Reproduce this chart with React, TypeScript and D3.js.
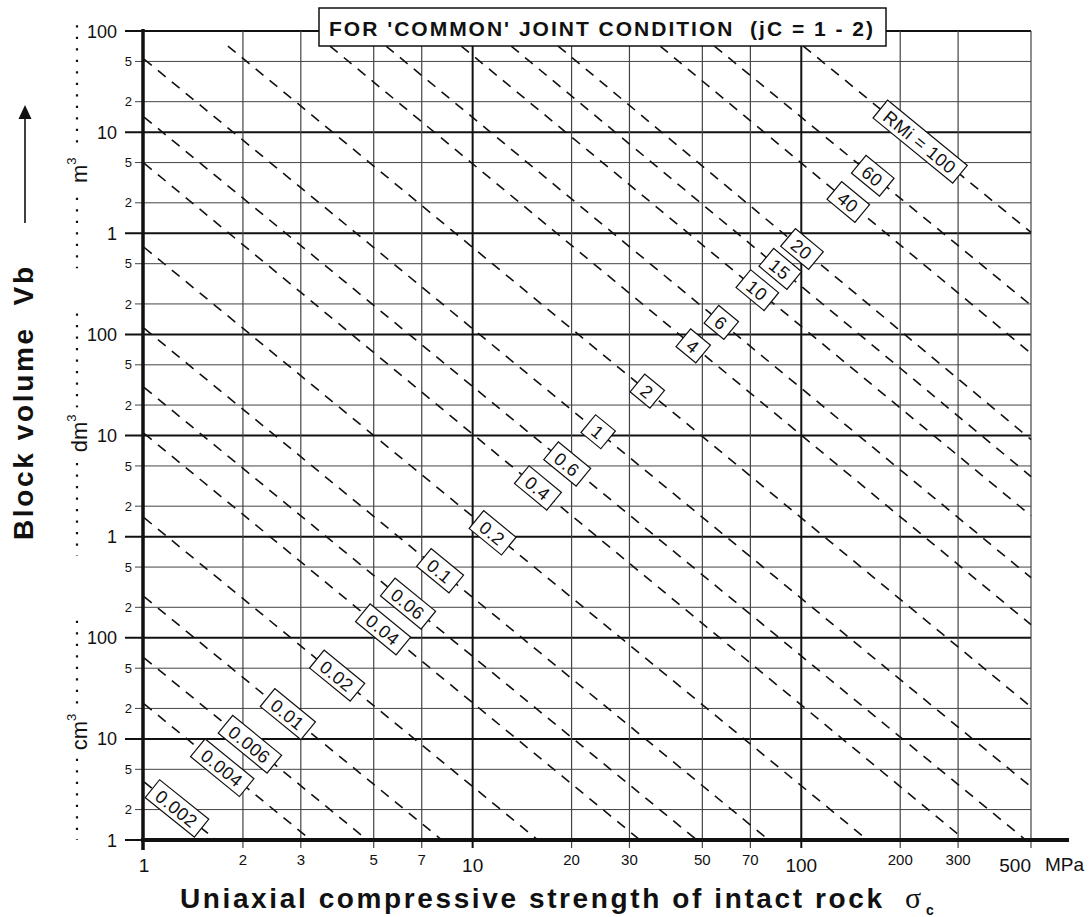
import React, { useRef, useEffect } from 'react';
import * as d3 from 'd3';

// x axis: uniaxial compressive strength (MPa)
const X_TICKS = [1, 2, 3, 5, 7, 10, 20, 30, 50, 70, 100, 200, 300, 500];
const X_TICK_LABELS = ['1', '2', '3', '5', '7', '10', '20', '30', '50', '70', '100', '200', '300', '500'];
const X_MAJOR = ['1', '10', '100', '500'];

// y axis: block volume in m3 (labels are shown in m3 / dm3 / cm3)
const Y_TICKS = [
  1e-6, 2e-6, 5e-6, 1e-5, 2e-5, 5e-5, 1e-4, 2e-4, 5e-4,
  1e-3, 2e-3, 5e-3, 1e-2, 2e-2, 5e-2, 0.1, 0.2, 0.5,
  1, 2, 5, 10, 20, 50, 100,
];
const Y_TICK_LABELS = [
  '1', '2', '5', '10', '2', '5', '100', '2', '5',
  '1', '2', '5', '10', '2', '5', '100', '2', '5',
  '1', '2', '5', '10', '2', '5', '100',
];

// unit brackets on the left (range and label position in m3)
const UNITS = ['m', 'dm', 'cm'];
const UNIT_FROM = [114, 0.161, 1.47e-4];
const UNIT_TO = [0.45, 6.5e-4, 1e-6];
const UNIT_AT = [4.2, 0.0105, 1.17e-5];

// RMi lines: start and end points (sigma MPa, Vb m3)
const RMI_LABELS = ['0.002', '0.004', '0.006', '0.01', '0.02', '0.04', '0.06', '0.1', '0.2', '0.4', '0.6',
  '1', '2', '4', '6', '10', '15', '20', '40', '60', 'RMi = 100'];
const START_SIGMA = [1, 1, 1, 1, 1, 1, 1, 1, 1, 1, 1, 1, 1.8, 3.68, 5.45, 9.23, 13.1, 18.2, 37.2, 54.4, 101.4];
const START_VB = [3.75e-6, 2.22e-5, 6.34e-5, 2.55e-4, 1.54e-3, 1.05e-2, 2.99e-2, 0.115, 0.727, 4.93, 14.1,
  52.8, 71, 71, 71, 71, 71, 71, 71, 71, 71];
const END_SIGMA = [1.66, 3.22, 4.78, 8.06, 15.8, 32.3, 48.1, 79.6, 159, 315, 482,
  500, 500, 500, 500, 500, 500, 500, 500, 500, 500];
const END_VB = [1e-6, 1e-6, 1e-6, 1e-6, 1e-6, 1e-6, 1e-6, 1e-6, 1e-6, 1e-6, 1e-6,
  3.35e-6, 2.07e-5, 1.345e-4, 3.93e-4, 1.61e-3, 3.93e-3, 9.12e-3, 0.0649, 0.194, 1.02];
const LABEL_SIGMA = [1.26, 1.73, 2.1, 2.74, 3.87, 5.34, 6.36, 7.96, 11.5, 15.8, 19.4,
  24.1, 34.0, 46.9, 57.1, 73.5, 86.3, 100.5, 139, 165, 230];

const TITLE = "FOR 'COMMON' JOINT CONDITION  (jC = 1 - 2)";
const SANS = '"Liberation Sans", Arial, Helvetica, sans-serif';

const App: React.FC = () => {
  const svgRef = useRef<SVGSVGElement | null>(null);

  useEffect(() => {
    if (!svgRef.current) return;
    const W = 1090, H = 917;
    const svg = d3.select(svgRef.current);
    svg.selectAll('*').remove();
    svg.attr('width', W).attr('height', H);

    const x = d3.scaleLog().domain([1, 500]).range([144, 1031]);
    const y = d3.scaleLog().domain([1e-6, 100]).range([840, 31]);

    svg.append('rect').attr('width', W).attr('height', H).attr('fill', '#fff');

    // horizontal grid + y ticks
    const grid = svg.append('g');
    Y_TICKS.forEach((v, i) => {
      const major = Y_TICK_LABELS[i] !== '2' && Y_TICK_LABELS[i] !== '5';
      grid.append('line')
        .attr('x1', major ? 125 : 135).attr('x2', x(500))
        .attr('y1', y(v)).attr('y2', y(v))
        .attr('stroke', major ? '#111' : '#444')
        .attr('stroke-width', major ? 2 : 1);
      svg.append('text')
        .attr('x', major ? 117 : 132)
        .attr('y', y(v) + (major ? 6.5 : 4.6))
        .attr('text-anchor', 'end')
        .attr('font-family', SANS)
        .attr('font-size', major ? 18 : 13)
        .attr('fill', '#111')
        .text(Y_TICK_LABELS[i]);
    });

    // vertical grid + x ticks
    X_TICKS.forEach((v, i) => {
      const lab = X_TICK_LABELS[i];
      const major = X_MAJOR.includes(lab);
      if (v > 1) {
        grid.append('line')
          .attr('x1', x(v)).attr('x2', x(v))
          .attr('y1', y(100)).attr('y2', 848)
          .attr('stroke', lab === '10' || lab === '100' ? '#111' : '#444')
          .attr('stroke-width', lab === '10' || lab === '100' ? 2 : 1.2);
      }
      svg.append('text')
        .attr('x', x(v))
        .attr('y', major ? 872 : 865)
        .attr('text-anchor', lab === '500' ? 'end' : 'middle')
        .attr('font-family', SANS)
        .attr('font-size', major ? 19 : 15)
        .attr('fill', '#111')
        .text(lab);
    });
    svg.append('text')
      .attr('x', 1045).attr('y', 871)
      .attr('font-family', SANS).attr('font-size', 19).attr('fill', '#111')
      .text('MPa');

    // RMi dashed lines
    const lines = svg.append('g');
    const labels = svg.append('g');
    RMI_LABELS.forEach((lab, i) => {
      const x0 = x(START_SIGMA[i]), y0 = y(START_VB[i]);
      const x1 = x(END_SIGMA[i]), y1 = y(END_VB[i]);
      lines.append('line')
        .attr('x1', x0).attr('y1', y0).attr('x2', x1).attr('y2', y1)
        .attr('stroke', '#111').attr('stroke-width', 1.6)
        .attr('stroke-dasharray', '10,8');

      const px = x(LABEL_SIGMA[i]);
      const t = (px - x0) / (x1 - x0);
      const py = y0 + t * (y1 - y0);
      const angle = Math.atan2(y1 - y0, x1 - x0) * 180 / Math.PI;
      const g = labels.append('g').attr('transform', `translate(${px},${py}) rotate(${angle})`);
      const rect = g.append('rect').attr('fill', '#fff').attr('stroke', '#111').attr('stroke-width', 1.2);
      const txt = g.append('text')
        .attr('text-anchor', 'middle')
        .attr('dominant-baseline', 'central')
        .attr('font-family', SANS)
        .attr('font-size', 18)
        .attr('letter-spacing', 0.6)
        .attr('fill', '#111')
        .text(lab);
      const w = (txt.node() as SVGTextElement).getComputedTextLength() + 15;
      rect.attr('x', -w / 2).attr('y', -11.5).attr('width', w).attr('height', 23);
      txt.attr('y', 1);
    });

    // axes
    svg.append('line').attr('x1', 143).attr('x2', 143).attr('y1', 29).attr('y2', 850)
      .attr('stroke', '#111').attr('stroke-width', 3.5);
    svg.append('line').attr('x1', 141).attr('x2', 1069).attr('y1', 840).attr('y2', 840)
      .attr('stroke', '#111').attr('stroke-width', 4);

    // unit brackets
    UNITS.forEach((u, i) => {
      svg.append('line')
        .attr('x1', 77).attr('x2', 77)
        .attr('y1', y(UNIT_FROM[i])).attr('y2', y(UNIT_TO[i]))
        .attr('stroke', '#111').attr('stroke-width', 2.2)
        .attr('stroke-dasharray', '2.2,9.3');
      const cy = y(UNIT_AT[i]);
      const lg = svg.append('g').attr('transform', `translate(87,${cy}) rotate(-90)`);
      const bg = lg.append('rect').attr('fill', '#fff');
      const t = lg.append('text')
        .attr('text-anchor', 'middle')
        .attr('font-family', SANS)
        .attr('font-size', 22)
        .attr('fill', '#111');
      t.append('tspan').text(u);
      t.append('tspan').attr('font-size', 13).attr('dy', -11).text('3');
      const bb = (t.node() as SVGTextElement).getBBox();
      bg.attr('x', bb.x - 7).attr('y', bb.y - 2).attr('width', bb.width + 14).attr('height', bb.height + 4);
    });

    // y title + arrow
    svg.append('text')
      .attr('transform', 'translate(33,403.5) rotate(-90)')
      .attr('text-anchor', 'middle')
      .attr('font-family', SANS)
      .attr('font-weight', 'bold')
      .attr('font-size', 28)
      .attr('fill', '#111')
      .attr('textLength', 273)
      .attr('lengthAdjust', 'spacing')
      .style('white-space', 'pre')
      .text('Block volume  Vb');
    svg.append('line').attr('x1', 25).attr('x2', 25).attr('y1', 223).attr('y2', 116)
      .attr('stroke', '#111').attr('stroke-width', 1.6);
    svg.append('path').attr('d', 'M25,105 L18.5,119 L31.5,119 Z').attr('fill', '#111');

    // x title
    svg.append('text')
      .attr('x', 180).attr('y', 908)
      .attr('font-family', SANS)
      .attr('font-weight', 'bold')
      .attr('font-size', 28)
      .attr('fill', '#111')
      .attr('textLength', 702)
      .attr('lengthAdjust', 'spacing')
      .text('Uniaxial compressive strength of intact rock');
    svg.append('text')
      .attr('x', 905).attr('y', 908)
      .attr('font-family', '"Liberation Serif", "Times New Roman", serif')
      .attr('font-size', 30)
      .attr('fill', '#111')
      .text('σ');
    svg.append('text')
      .attr('x', 926).attr('y', 915)
      .attr('font-family', SANS)
      .attr('font-weight', 'bold')
      .attr('font-size', 14)
      .attr('fill', '#111')
      .text('c');

    // title box
    svg.append('rect')
      .attr('x', 319).attr('y', 8).attr('width', 567).attr('height', 38)
      .attr('fill', '#fff').attr('stroke', '#111').attr('stroke-width', 1.5);
    svg.append('text')
      .attr('x', 329).attr('y', 36)
      .attr('font-family', SANS)
      .attr('font-weight', 'bold')
      .attr('font-size', 21)
      .attr('fill', '#111')
      .attr('textLength', 544)
      .attr('lengthAdjust', 'spacing')
      .style('white-space', 'pre')
      .text(TITLE);
  }, []);

  return (
    <div style={{ position: 'absolute', left: 0, top: 0 }}>
      <svg ref={svgRef} style={{ display: 'block' }}></svg>
    </div>
  );
};

export default App;
